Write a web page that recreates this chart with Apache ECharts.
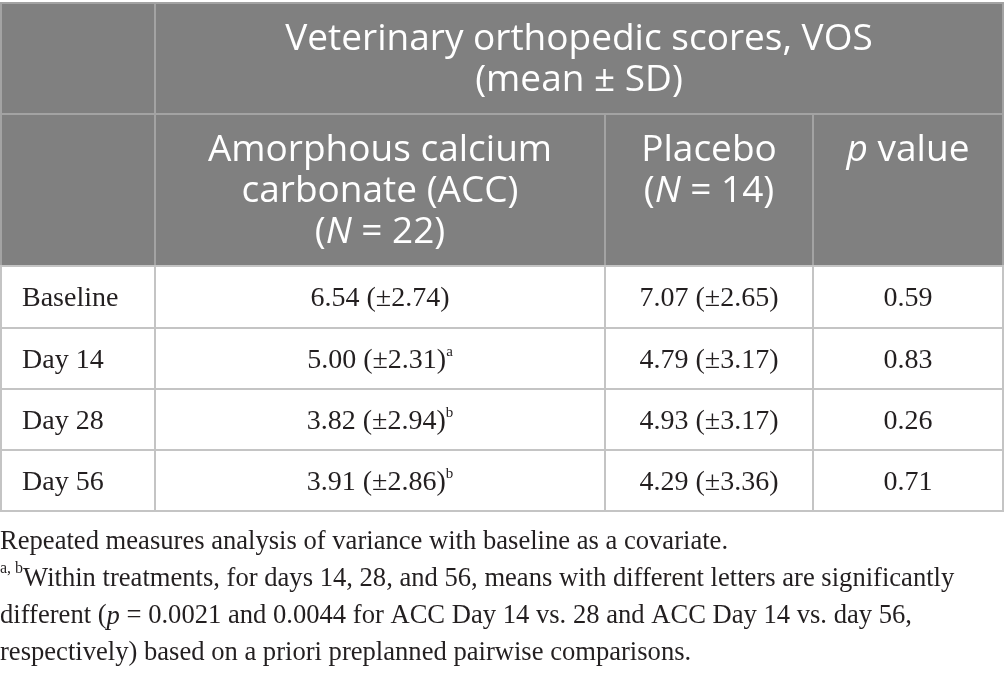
<!DOCTYPE html>
<html>
<head>
<meta charset="utf-8">
<script src="https://cdn.jsdelivr.net/npm/echarts@6/dist/echarts.min.js"></script>
<style>
html, body { margin: 0; padding: 0; background: #fff; }
#main { width: 1004px; height: 676px; }
</style>
</head>
<body>
<div id="main"></div>
<script>
// table content
var groupTitle = 'Veterinary orthopedic scores, VOS\n(mean ± SD)';
var colHeads = [
  'Amorphous calcium\ncarbonate (ACC)\n({hi|N} = 22)',
  'Placebo\n({hi|N} = 14)',
  '{hi|p} value'
];
var rowLabels = ['Baseline', 'Day 14', 'Day 28', 'Day 56'];
var accMean = [6.54, 5.00, 3.82, 3.91];
var accSD = [2.74, 2.31, 2.94, 2.86];
var accSup = ['', 'a', 'b', 'b'];
var placeboMean = [7.07, 4.79, 4.93, 4.29];
var placeboSD = [2.65, 3.17, 3.17, 3.36];
var pValues = [0.59, 0.83, 0.26, 0.71];
var footnoteLines = [
  'Repeated measures analysis of variance with baseline as a covariate.',
  '{sup|a, b}Within treatments, for days 14, 28, and 56, means with different letters are significantly',
  'different ({it|p} = 0.0021 and 0.0044 for ACC Day 14 vs. 28 and ACC Day 14 vs. day 56,',
  'respectively) based on a priori preplanned pairwise comparisons.'
];

// layout (pixels on the hidden axes)
var COL_EDGES = [1, 155, 605, 813, 1003];
var ROW_EDGES = [3, 114, 266, 328, 389, 450, 511];
var HEAD_BG = '#808080';
var HEAD_LINE = '#a3a3a3';
var BODY_LINE = '#c4c4c4';
var TEXT = '#231f20';
var SANS = 'Open Sans';
var SERIF = 'Liberation Serif';
var HEAD_SIZE = 37;
var HEAD_WEIGHT = 'normal';
var BODY_SIZE = 28;
var NOTE_SIZE = 26.6;

function fmt(m, sd) {
  return m.toFixed(2) + ' (±' + sd.toFixed(2) + ')';
}

var cells = [];
function addCell(c, r, span, text, kind) {
  cells.push({ c: c, r: r, span: span, text: text, kind: kind });
}
addCell(0, 0, 1, '', 'head');
addCell(1, 0, 3, groupTitle, 'head');
addCell(0, 1, 1, '', 'head');
colHeads.forEach(function (t, i) { addCell(i + 1, 1, 1, t, 'head'); });
rowLabels.forEach(function (lab, i) {
  var r = i + 2;
  addCell(0, r, 1, lab, 'label');
  addCell(1, r, 1, fmt(accMean[i], accSD[i]) + (accSup[i] ? '{sup|' + accSup[i] + '}' : ''), 'value');
  addCell(2, r, 1, fmt(placeboMean[i], placeboSD[i]), 'value');
  addCell(3, r, 1, pValues[i].toFixed(2), 'value');
});

var headRich = {
  hi: { fontFamily: SANS, fontSize: HEAD_SIZE, fontWeight: HEAD_WEIGHT, fontStyle: 'italic', lineHeight: 41, color: '#fff' }
};
var bodyRich = {
  sup: { fontFamily: SERIF, fontSize: 15, lineHeight: 15, verticalAlign: 'top', color: TEXT }
};

function renderCell(params, api) {
  var d = cells[params.dataIndex];
  var p0 = api.coord([COL_EDGES[d.c], ROW_EDGES[d.r]]);
  var p1 = api.coord([COL_EDGES[d.c + d.span], ROW_EDGES[d.r + 1]]);
  var head = d.kind === 'head';
  var children = [{
    type: 'rect',
    shape: { x: p0[0], y: p0[1], width: p1[0] - p0[0], height: p1[1] - p0[1] },
    style: { fill: head ? HEAD_BG : '#fff', stroke: head ? HEAD_LINE : BODY_LINE, lineWidth: 2 }
  }];
  if (d.text) {
    var left = d.kind === 'label';
    children.push({
      type: 'text',
      style: {
        text: d.text,
        x: left ? p0[0] + 21 : (p0[0] + p1[0]) / 2,
        y: head ? p0[1] + 16 : (p0[1] + p1[1]) / 2 + 2,
        align: left ? 'left' : 'center',
        verticalAlign: head ? 'top' : 'middle',
        fill: head ? '#fff' : TEXT,
        fontFamily: head ? SANS : SERIF,
        fontWeight: head ? HEAD_WEIGHT : 'normal',
        fontSize: head ? HEAD_SIZE : BODY_SIZE,
        lineHeight: head ? 41 : 32,
        rich: head ? headRich : bodyRich
      }
    });
  }
  return { type: 'group', children: children };
}

var chart = echarts.init(document.getElementById('main'));
chart.setOption({
  animation: false,
  backgroundColor: '#fff',
  title: {
    left: 0,
    top: 524,
    padding: 0,
    text: footnoteLines.join('\n'),
    textStyle: {
      fontFamily: SERIF,
      fontSize: NOTE_SIZE,
      fontWeight: 'normal',
      color: TEXT,
      lineHeight: 37,
      rich: {
        sup: { fontFamily: SERIF, fontSize: 16, lineHeight: 16, verticalAlign: 'top', color: TEXT },
        it: { fontFamily: SERIF, fontSize: NOTE_SIZE, fontStyle: 'italic', lineHeight: 37, color: TEXT }
      }
    }
  },
  grid: { left: 0, right: 0, top: 0, bottom: 0 },
  xAxis: { type: 'value', min: 0, max: 1004, show: false },
  yAxis: { type: 'value', min: 0, max: 676, inverse: true, show: false },
  series: [{
    type: 'custom',
    clip: false,
    renderItem: renderCell,
    data: cells.map(function (d) { return [d.c, d.r]; })
  }]
});
</script>
</body>
</html>
